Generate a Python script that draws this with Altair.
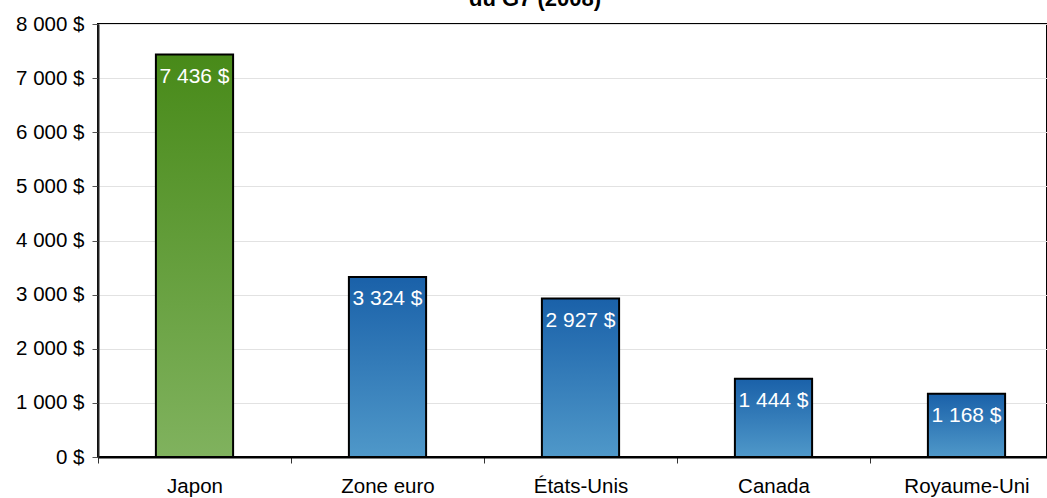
import altair as alt
import pandas as pd

countries = ["Japon", "Zone euro", "États-Unis", "Canada", "Royaume-Uni"]
values = [7436, 3324, 2927, 1444, 1168]
groups = ["green", "blue", "blue", "blue", "blue"]
title_text = ["du G7 (2008)"]
y_ticks = [0, 1000, 2000, 3000, 4000, 5000, 6000, 7000, 8000]

df = pd.DataFrame({"pays": countries, "valeur": values, "groupe": groups})
df_title = pd.DataFrame({"t": title_text})

FONT = "Liberation Sans"
FS = 20.5

x_enc = alt.X(
    "pays:N",
    sort=countries,
    title=None,
    scale=alt.Scale(paddingInner=0, paddingOuter=0, range=[0, 965]),
    axis=alt.Axis(
        labelAngle=0,
        tickBand="extent",
        tickSize=6,
        tickColor="#333333",
        domainColor="black",
        domainWidth=2,
        labelPadding=13,
        labelFontSize=FS,
        labelFont=FONT,
        labelColor="black",
        grid=False,
    ),
)
y_enc = alt.Y(
    "valeur:Q",
    title=None,
    scale=alt.Scale(domain=[0, 8000], nice=False),
    axis=alt.Axis(
        values=y_ticks,
        labelExpr="replace(format(datum.value, ',d'), ',', ' ') + ' $'",
        tickSize=6,
        tickColor="#555555",
        domainColor="#222222",
        domainWidth=2,
        labelPadding=8,
        labelFontSize=FS,
        labelFont=FONT,
        labelColor="black",
        grid=True,
        gridColor="#e2e2e2",
        gridWidth=1,
    ),
)

green_grad = alt.Gradient(
    gradient="linear",
    stops=[alt.GradientStop(color="#488a19", offset=0),
           alt.GradientStop(color="#80b25e", offset=1)],
    x1=0, x2=0, y1=0, y2=1,
)
blue_grad = alt.Gradient(
    gradient="linear",
    stops=[alt.GradientStop(color="#1a61a9", offset=0),
           alt.GradientStop(color="#4f98c9", offset=1)],
    x1=0, x2=0, y1=0, y2=1,
)

base = alt.Chart(df)

bars_green = base.transform_filter("datum.groupe == 'green'").mark_bar(
    fill=green_grad, stroke="black", strokeWidth=2,
    width=alt.RelativeBandSize(0.4),
).encode(x=x_enc, y=y_enc)

bars_blue = base.transform_filter("datum.groupe == 'blue'").mark_bar(
    fill=blue_grad, stroke="black", strokeWidth=2,
    width=alt.RelativeBandSize(0.4),
).encode(x=x_enc, y=y_enc)

labels = base.transform_calculate(
    lab="replace(format(datum.valeur, ',d'), ',', ' ') + ' $'"
).mark_text(
    align="center", baseline="top", dy=11, color="white", fontSize=21, font=FONT
).encode(x=x_enc, y=y_enc, text="lab:N")

title = alt.Chart(df_title).mark_text(
    align="center", baseline="alphabetic", fontSize=22, fontWeight="bold",
    font=FONT, color="black"
).encode(x=alt.value(437), y=alt.value(-18), text="t:N")

chart = alt.layer(bars_green, bars_blue, labels, title).properties(
    width=949,
    height=433,
    autosize=alt.AutoSizeParams(type="none"),
    padding={"left": 98, "top": 24, "right": 0, "bottom": 41},
    background="white",
).configure_view(stroke="black", strokeWidth=2)

chart.save("out.html", embed_options={"renderer": "svg", "actions": False})
